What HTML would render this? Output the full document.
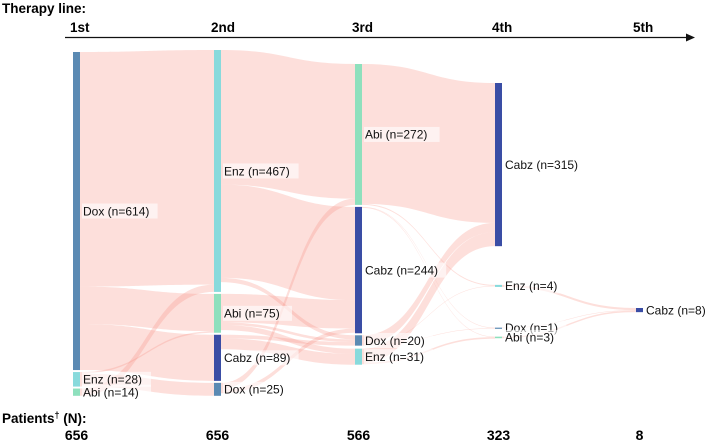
<!DOCTYPE html>
<html><head><meta charset="utf-8"><style>
html,body{margin:0;padding:0;background:#fff;}
svg{display:block;font-family:"Liberation Sans",Arial,sans-serif;}
</style></head><body>
<svg id="chart" width="708" height="440" viewBox="0 0 708 440">
<text x="2" y="13" font-size="13.5" font-weight="bold">Therapy line:</text>
<g id="cols"></g>
<line x1="65" y1="37.5" x2="686" y2="37.5" stroke="#111" stroke-width="1.2"/>
<polygon points="686,33.5 695,37.5 686,41.5" fill="#111"/>
<g id="links"></g>
<g id="nodes"></g>
<g id="labels"></g>
<text x="2" y="423" font-size="13.5" font-weight="bold">Patients<tspan font-size="9" dy="-5">†</tspan><tspan dy="5"> (N):</tspan></text>
<g id="totals"></g>
</svg>
<script>
const columnLabels = ["1st","2nd","3rd","4th","5th"];
const patientTotals = ["656","656","566","323","8"];
const nodeNames = [
  ["Dox","Enz","Abi"],
  ["Enz","Abi","Cabz","Dox"],
  ["Abi","Cabz","Dox","Enz"],
  ["Cabz","Enz","Dox","Abi"],
  ["Cabz"]
];
const nodeValues = [
  [614,28,14],
  [467,75,89,25],
  [272,244,20,31],
  [315,4,1,3],
  [8]
];
// flows: [sourceColumn, sourceIndex, targetIndex, value]
const flowCols = [0,0,0,0,0,0, 1,1,1,1,1,1,1,1,1,1,1, 2,2,2,2,2,2,2,2,2, 3,3,3];
const flowSrc  = [0,0,0,1,1,2, 0,0,0,1,1,1,2,2,2,3,3, 0,0,1,1,2,2,2,3,3, 1,2,3];
const flowTgt  = [0,1,2,1,3,0, 0,1,2,1,2,3,2,3,2,0,1, 0,1,2,3,0,1,2,0,3, 0,0,0];
const flowVals = [453,72,89,3,25,14, 260,180,8,55,5,10,7,21,0,12,8, 270,2,1,1,18,1,1,27,3, 4,1,3];

// layout (not data)
const colX = [73,214,355,495,636];
const nodeW = 7;
const k = 0.518;
const colGaps = [[52,2,2],[50,2,2,2],[64,2,2,3],[83,38.7,40.7,8.5],[308]];
const colors = {Dox:"#5b8ab3",Enz:"#88dadc",Abi:"#8ee0bd",Cabz:"#3a4da5"};
const NS="http://www.w3.org/2000/svg";
function mk(tag,attrs,parent){const e=document.createElementNS(NS,tag);for(const a in attrs)e.setAttribute(a,attrs[a]);parent.appendChild(e);return e;}

const nodeY = nodeValues.map((vals,c)=>{let y=0;return vals.map((v,i)=>{y+=colGaps[c][i];const t=y;y+=v*k;return t;});});

columnLabels.forEach((l,c)=>{
  const t=mk("text",{x:colX[c]-3,y:32,"font-size":13.5,"font-weight":"bold"},document.getElementById("cols"));
  
  
  t.textContent=l;
  const n=mk("text",{x:colX[c]+nodeW/2,y:440,"font-size":14,"font-weight":"bold","text-anchor":"middle"},document.getElementById("totals"));
  
  
  n.textContent=patientTotals[c];
});

const outOff = nodeValues.map(v=>v.map(()=>0));
const inOff = nodeValues.map(v=>v.map(()=>0));
const order = flowVals.map((_,i)=>i);
const outOrder = order.slice().sort((a,b)=>flowCols[a]-flowCols[b]||flowSrc[a]-flowSrc[b]||flowTgt[a]-flowTgt[b]);
const sy = {}, ty = {};
outOrder.forEach(i=>{const c=flowCols[i],s=flowSrc[i];sy[i]=nodeY[c][s]+outOff[c][s];outOff[c][s]+=flowVals[i]*k;});
const inOrder = order.slice().sort((a,b)=>flowCols[a]-flowCols[b]||flowTgt[a]-flowTgt[b]||flowSrc[a]-flowSrc[b]);
inOrder.forEach(i=>{const c=flowCols[i]+1,t=flowTgt[i];ty[i]=nodeY[c][t]+inOff[c][t];inOff[c][t]+=flowVals[i]*k;});
const gL=document.getElementById("links");
order.forEach(i=>{
  if(flowVals[i]<=0)return;
  const c=flowCols[i],x1=colX[c]+nodeW,x0=colX[c+1],h=flowVals[i]*k,xm=(x1+x0)/2;
  const a=sy[i],b=ty[i];
  const d=`M${x1},${a}C${xm},${a} ${xm},${b} ${x0},${b}L${x0},${b+h}C${xm},${b+h} ${xm},${a+h} ${x1},${a+h}Z`;
  const p=mk("path",{d:d,fill:"rgb(248,150,135)","fill-opacity":0.3},gL);
  
  
});

const gN=document.getElementById("nodes"),gT=document.getElementById("labels");
nodeValues.forEach((vals,c)=>vals.forEach((v,i)=>{
  const name=nodeNames[c][i],h=Math.max(v*k,1.2),y=nodeY[c][i];
  const r=mk("rect",{x:colX[c],y:y,width:nodeW,height:h,fill:colors[name]},gN);
  
  
  const cy=y+v*k/2;
  const txt=name+" (n="+v+")";
  const bg=mk("rect",{x:colX[c]+nodeW+2,y:cy-7.5,width:txt.length*6.6+3,height:15,fill:"#fff","fill-opacity":0.6},gT);
  
  
  const t=mk("text",{x:colX[c]+nodeW+3,y:cy+4.3,"font-size":12,fill:"#111"},gT);
  
  
  t.textContent=txt;
}));
</script>
</body></html>
